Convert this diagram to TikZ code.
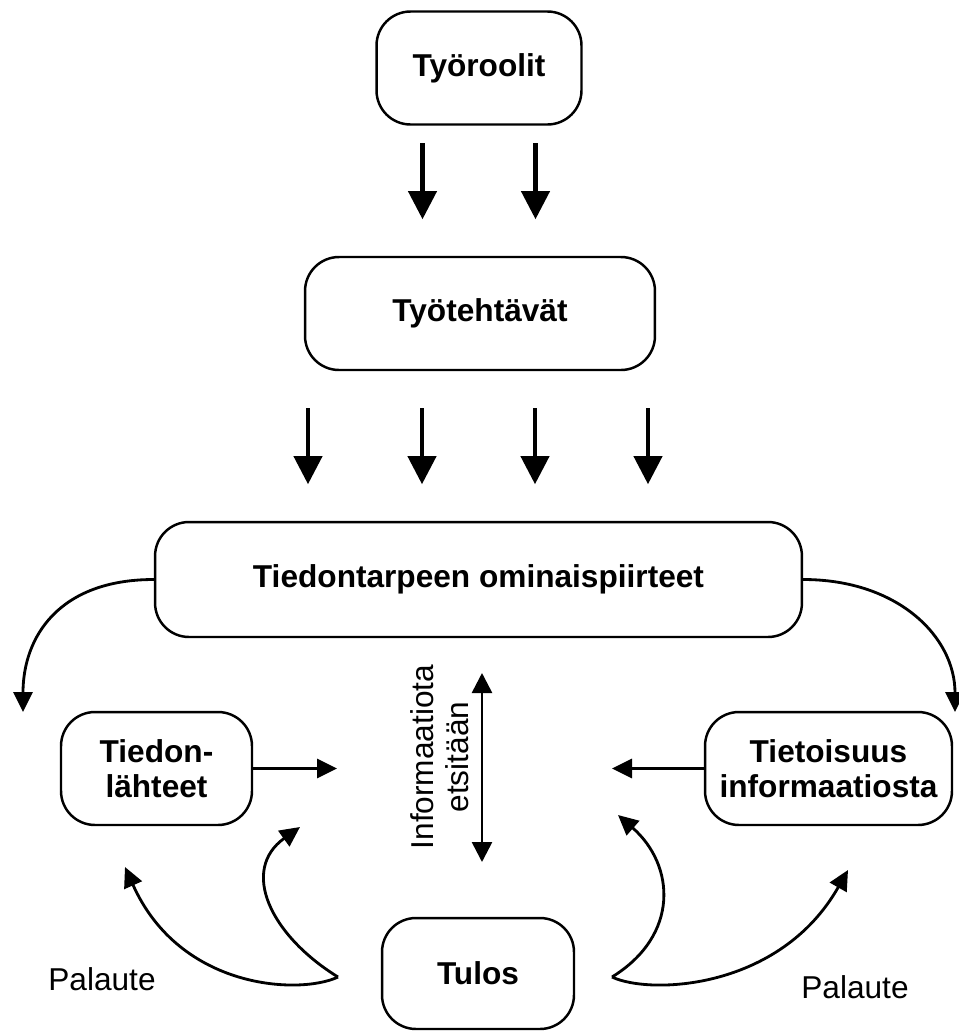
\documentclass[tikz,border=0pt]{standalone}
\usepackage{fontspec}
\setmainfont{Liberation Sans}
\usetikzlibrary{arrows.meta,calc}
\tikzset{
  box/.style={draw, line width=1.4pt, rounded corners=0.68cm, inner sep=0pt,
    align=center, font=\bfseries\fontsize{18}{20}\selectfont},
  lbl/.style={font=\fontsize{18}{20}\selectfont, align=center, inner sep=0pt},
  bigarrow/.style={line width=2.3pt, -{Triangle[length=0.56cm,width=0.56cm]}},
  arr/.style={line width=1.6pt, -{Triangle[length=0.4cm,width=0.38cm]}},
  dblarr/.style={line width=1.5pt,
    {Triangle[length=0.4cm,width=0.4cm]}-{Triangle[length=0.4cm,width=0.4cm]}},
}
\begin{document}
\begin{tikzpicture}[x=0.02cm, y=-0.02cm]
\useasboundingbox (0,0) rectangle (958,1032);

% boxes
\node[box, minimum width=4.1cm, minimum height=2.26cm] (tyoroolit) at (479,68) {Työroolit};
\node[box, minimum width=7cm, minimum height=2.26cm] (tyotehtavat) at (480,313.5) {Työtehtävät};
\node[box, minimum width=12.94cm, minimum height=2.3cm] (tarve) at (478.5,579.5) {Tiedontarpeen ominaispiirteet};
\node[box, minimum width=3.82cm, minimum height=2.26cm] (lahteet) at (156.5,768.5) {Tiedon-\\lähteet};
\node[box, minimum width=4.94cm, minimum height=2.26cm] (tietoisuus) at (828.5,768.5) {Tietoisuus\\informaatiosta};
\node[box, minimum width=3.84cm, minimum height=2.22cm] (tulos) at (478,973.5) {Tulos};

% downward arrows
\foreach \dx in {-56.5,56.5}
  \draw[bigarrow, shorten <=0.35cm, shorten >=0.78cm]
    ($(tyoroolit.south)+(\dx,0)$) -- ($(tyoroolit.south)+(\dx,132.5)$);
\foreach \dx in {-170.5,-56.5,56.5,169.5}
  \draw[bigarrow, shorten <=0.74cm, shorten >=0.78cm]
    ($(tyotehtavat.south)+(\dx-1.5,0)$) -- ($(tyotehtavat.south)+(\dx-1.5,152)$);

% free ends
\coordinate (lt) at (23,712);
\coordinate (rt) at (955,712);
\coordinate (hl) at (337,768.5);
\coordinate (hr) at (612,768.5);
\coordinate (st) at (482,673);
\coordinate (sb) at (482,862);
\coordinate (clawL) at (338,977);
\coordinate (tl1) at (300,827);
\coordinate (tl2) at (125,867);
\coordinate (clawR) at (612,977);
\coordinate (tr1) at (618,815);
\coordinate (tr2) at (848,870);

% arcs out of the wide box
\draw[arr] (tarve.west) .. controls +(-95,0) and +(0,-75) .. (lt);
\draw[arr] (tarve.east) .. controls +(95,0) and +(0,-75) .. (rt);

% side inputs
\draw[arr] (lahteet.east) -- (hl);
\draw[arr] (tietoisuus.west) -- (hr);

% search axis
\draw[dblarr] (st) -- (sb);
\node[lbl, rotate=90] (info) at (440,757) {Informaatiota\\etsitään};

% feedback claws
\draw[arr] (clawL) .. controls (270,935) and (240,870) .. (tl1);
\draw[arr] (clawL) .. controls (300,995) and (180,990) .. (tl2);
\draw[arr] (clawR) .. controls (680,935) and (675,865) .. (tr1);
\draw[arr] (clawR) .. controls (650,995) and (780,990) .. (tr2);

\node[lbl] (palL) at (102,979) {Palaute};
\node[lbl] (palR) at (855,987) {Palaute};
\end{tikzpicture}
\end{document}
